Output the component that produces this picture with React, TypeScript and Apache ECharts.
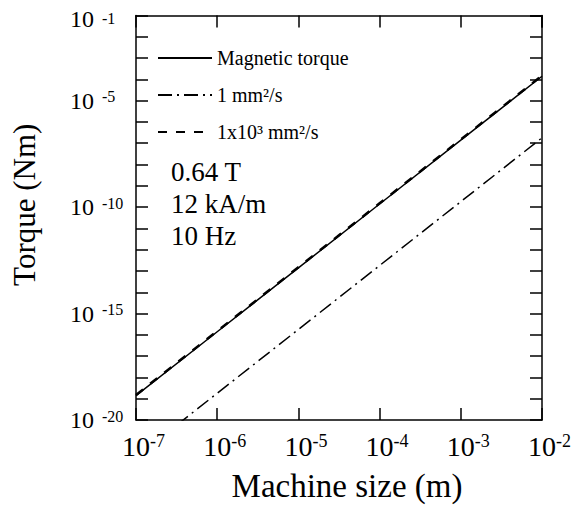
import React, { useEffect, useRef } from "react";
import * as echarts from "echarts";

// Machine size (m) at each decade
const machineSize = [1e-7, 1e-6, 1e-5, 1e-4, 1e-3, 1e-2];
// Torque (Nm)
const magneticTorque = [1.4e-19, 1.4e-16, 1.4e-13, 1.4e-10, 1.4e-7, 1.4e-4];
const viscous1 = [1.8e-22, 1.8e-19, 1.8e-16, 1.8e-13, 1.8e-10, 1.8e-7];
const viscous1e3 = [1.5e-19, 1.5e-16, 1.5e-13, 1.5e-10, 1.5e-7, 1.5e-4];
const seriesNames = ["Magnetic torque", "1 mm²/s", "1x10³ mm²/s"];
const yLabelExponents = [-20, -15, -10, -5, -1];
const xLabelExponents = [-7, -6, -5, -4, -3, -2];
const conditions = ["0.64 T", "12 kA/m", "10 Hz"];

const FONT = "Liberation Serif";

const pairs = (ys: number[]) => machineSize.map((x, i) => [x, ys[i]]);

export default function App() {
  const ref = useRef<HTMLDivElement>(null);
  useEffect(() => {
    if (!ref.current) return;
    const chart = echarts.init(ref.current, undefined, { renderer: "svg" });
    const axisLine = { show: true, lineStyle: { color: "#000", width: 1.5 } };
    const axisTick = { show: true, inside: true, length: 12, lineStyle: { color: "#000", width: 1.5 } };
    const txt = { fontFamily: FONT, color: "#000", fontWeight: "normal" as const };
    const option: any = {
      animation: false,
      backgroundColor: "#fff",
      textStyle: { fontFamily: FONT },
      grid: { left: 136, right: 38, top: 14, bottom: 92 },
      legend: {
        orient: "vertical",
        left: 152,
        top: 43,
        itemWidth: 54,
        itemHeight: 14,
        itemGap: 17,
        selectedMode: false,
        itemStyle: { opacity: 0 },
        textStyle: { ...txt, fontSize: 20, lineHeight: 20 },
        data: seriesNames,
      },
      xAxis: [
        {
          type: "log",
          logBase: 10,
          min: 1e-7,
          max: 1e-2,
          interval: 1,
          splitNumber: 5,
          position: "bottom",
          axisLine,
          axisTick,
          splitLine: { show: false },
          name: "Machine size (m)",
          nameLocation: "middle",
          nameGap: 49,
          nameTextStyle: { ...txt, fontSize: 33, padding: [0, 0, 0, 16] },
          axisLabel: {
            margin: 12,
            showMinLabel: true,
            showMaxLabel: true,
            formatter: (v: number) => {
              const e = Math.round(Math.log10(v));
              if (!xLabelExponents.includes(e)) return "";
              return `{pad| }{b|10}{s|${e}}`;
            },
            rich: {
              pad: { width: 15, fontSize: 18, fontFamily: FONT },
              b: { ...txt, fontSize: 28, lineHeight: 28 },
              s: { ...txt, fontSize: 18, lineHeight: 18, verticalAlign: "top" },
            },
          },
        },
        {
          type: "log",
          logBase: 10,
          min: 1e-7,
          max: 1e-2,
          interval: 1,
          splitNumber: 5,
          position: "top",
          axisLine,
          axisTick,
          axisLabel: { show: false },
          splitLine: { show: false },
        },
      ],
      yAxis: [
        {
          type: "log",
          logBase: 10,
          min: 1e-20,
          max: 1e-1,
          interval: 1,
          splitNumber: 19,
          position: "left",
          axisLine,
          axisTick,
          splitLine: { show: false },
          name: "Torque (Nm)",
          nameLocation: "middle",
          nameGap: 96,
          nameTextStyle: { ...txt, fontSize: 31, padding: [0, 0, 0, 26] },
          axisLabel: {
            margin: 66,
            align: "left",
            showMinLabel: true,
            showMaxLabel: true,
            formatter: (v: number) => {
              const e = Math.round(Math.log10(v));
              if (!yLabelExponents.includes(e)) return "";
              if (e === -1) return `{bt|10}{st|${e}}`;
              return `{b|10}{s|${e}}`;
            },
            rich: {
              b: { ...txt, fontSize: 24, lineHeight: 24 },
              s: { ...txt, fontSize: 16, lineHeight: 16, verticalAlign: "top", padding: [0, 0, 0, 8] },
              bt: { ...txt, fontSize: 24, lineHeight: 24, padding: [7, 0, 0, 0] },
              st: { ...txt, fontSize: 16, lineHeight: 16, verticalAlign: "top", padding: [7, 0, 0, 8] },
            },
          },
        },
        {
          type: "log",
          logBase: 10,
          min: 1e-20,
          max: 1e-1,
          interval: 1,
          splitNumber: 19,
          position: "right",
          axisLine,
          axisTick,
          axisLabel: { show: false },
          splitLine: { show: false },
        },
      ],
      graphic: conditions.map((t, i) => ({
        type: "text",
        x: 171,
        y: 172 + i * 32,
        style: { text: t, fontSize: 27, fontFamily: FONT, fill: "#000", verticalAlign: "middle" },
      })),
      series: [
        {
          name: seriesNames[0],
          type: "line",
          data: pairs(magneticTorque),
          symbol: "none",
          lineStyle: { color: "#000", width: 1.5, type: "solid" },
          itemStyle: { color: "#000" },
          z: 2,
        },
        {
          name: seriesNames[1],
          type: "line",
          data: pairs(viscous1),
          symbol: "none",
          lineStyle: { color: "#000", width: 1.5, type: [14, 5, 2, 5] },
          itemStyle: { color: "#000" },
          z: 2,
        },
        {
          name: seriesNames[2],
          type: "line",
          data: pairs(viscous1e3),
          symbol: "none",
          lineStyle: { color: "#000", width: 2.5, type: [9, 9] },
          itemStyle: { color: "#000" },
          z: 3,
        },
      ],
    };
    chart.setOption(option);
    return () => chart.dispose();
  }, []);
  return <div ref={ref} style={{ width: 580, height: 512, position: "absolute", left: 0, top: 0 }} />;
}
